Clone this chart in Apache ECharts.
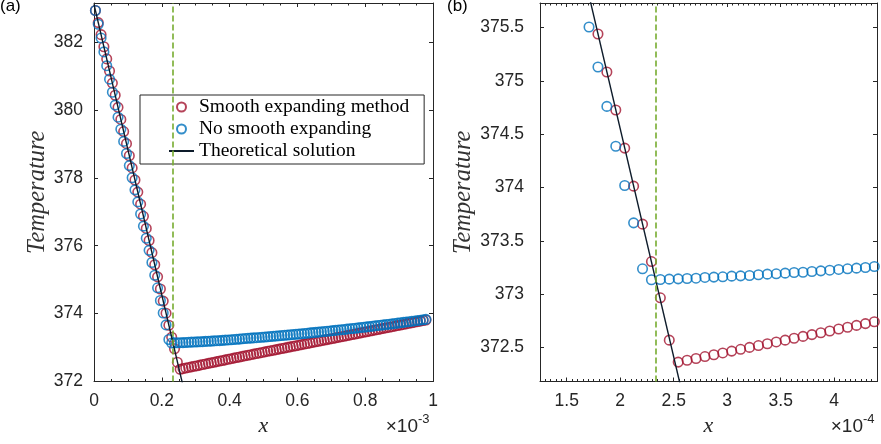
<!DOCTYPE html>
<html><head><meta charset="utf-8">
<script src="https://cdn.jsdelivr.net/npm/echarts@6/dist/echarts.min.js"></script>
<style>html,body{margin:0;padding:0;background:#fff}#c{width:881px;height:444px}</style>
</head><body><div id="c"></div>
<script>
// x positions of the cells, in units of 1e-4 m
const xGrid = [
0.0417,0.125,0.2083,0.2917,0.375,0.4583,0.5417,0.625,0.7083,0.7917,0.875,0.9583,
1.0417,1.125,1.2083,1.2917,1.375,1.4583,1.5417,1.625,1.7083,1.7917,1.875,1.9583,
2.0417,2.125,2.2083,2.2917,2.375,2.4583,2.5417,2.625,2.7083,2.7917,2.875,2.9583,
3.0417,3.125,3.2083,3.2917,3.375,3.4583,3.5417,3.625,3.7083,3.7917,3.875,3.9583,
4.0417,4.125,4.2083,4.2917,4.375,4.4583,4.5417,4.625,4.7083,4.7917,4.875,4.9583,
5.0417,5.125,5.2083,5.2917,5.375,5.4583,5.5417,5.625,5.7083,5.7917,5.875,5.9583,
6.0417,6.125,6.2083,6.2917,6.375,6.4583,6.5417,6.625,6.7083,6.7917,6.875,6.9583,
7.0417,7.125,7.2083,7.2917,7.375,7.4583,7.5417,7.625,7.7083,7.7917,7.875,7.9583,
8.0417,8.125,8.2083,8.2917,8.375,8.4583,8.5417,8.625,8.7083,8.7917,8.875,8.9583,
9.0417,9.125,9.2083,9.2917,9.375,9.4583,9.5417,9.625,9.7083,9.7917
];
// Smooth expanding method (temperature)
const smoothT = [
382.930,382.573,382.217,381.860,381.503,381.147,380.790,380.433,380.076,379.720,
379.363,379.006,378.650,378.293,377.936,377.580,377.223,376.866,376.509,376.153,
375.796,375.439,375.083,374.726,374.369,374.012,373.656,373.305,372.965,372.568,
372.362,372.379,372.396,372.414,372.431,372.448,372.465,372.482,372.500,372.517,
372.534,372.551,372.568,372.586,372.603,372.620,372.637,372.654,372.672,372.689,
372.706,372.723,372.740,372.757,372.773,372.790,372.806,372.823,372.839,372.856,
372.872,372.889,372.905,372.922,372.938,372.955,372.971,372.988,373.004,373.021,
373.037,373.054,373.070,373.087,373.103,373.120,373.136,373.153,373.169,373.186,
373.202,373.219,373.235,373.252,373.268,373.285,373.301,373.318,373.334,373.351,
373.367,373.384,373.400,373.417,373.433,373.450,373.466,373.483,373.499,373.516,
373.532,373.549,373.565,373.582,373.598,373.615,373.631,373.648,373.664,373.681,
373.697,373.714,373.730,373.747,373.763,373.780,373.796,373.813
];
// No smooth expanding (temperature)
const noSmoothT = [
382.930,382.523,382.117,381.710,381.303,380.907,380.520,380.143,379.786,379.430,
379.073,378.716,378.360,378.003,377.646,377.290,376.933,376.576,376.219,375.863,
375.505,375.130,374.760,374.386,374.018,373.668,373.237,373.134,373.137,373.140,
373.143,373.146,373.149,373.156,373.159,373.162,373.168,373.171,373.174,373.181,
373.187,373.190,373.196,373.202,373.205,373.212,373.218,373.224,373.231,373.237,
373.243,373.249,373.259,373.265,373.272,373.278,373.284,373.291,373.298,373.304,
373.311,373.318,373.325,373.332,373.339,373.346,373.354,373.361,373.368,373.376,
373.383,373.391,373.399,373.407,373.415,373.422,373.431,373.439,373.447,373.455,
373.464,373.472,373.481,373.489,373.498,373.507,373.515,373.524,373.533,373.542,
373.552,373.561,373.570,373.580,373.589,373.599,373.608,373.618,373.628,373.638,
373.648,373.658,373.668,373.678,373.688,373.699,373.709,373.719,373.730,373.741,
373.751,373.762,373.773,373.784,373.795,373.806,373.818,373.829
];
// Theoretical solution (straight line, end points)
const theoryX = [0, 2.7];
const theoryT = [383.11, 371.554];
// Interface position (x 1e-4 m)
const interfaceX = 2.33;
const seriesNames = ['Smooth expanding method', 'No smooth expanding', 'Theoretical solution'];

const RED = '#A2142F', BLUE = '#0072BD', BLACK = '#0d1b2a', GREEN = '#77AC30', AX = '#262626';
const SANS = 'Liberation Sans', SERIF = 'Liberation Serif';

const chart = echarts.init(document.getElementById('c'), null, {renderer: 'canvas'});

function ax(o) {
  return Object.assign({
    type: 'value', splitLine: {show: false},
    axisLine: {show: true, onZero: false, lineStyle: {color: AX, width: 1}},
    axisTick: {show: true, inside: true, length: 4, lineStyle: {color: AX, width: 1}},
    axisLabel: {show: false}
  }, o);
}
const lbl = {color: AX, fontFamily: SANS, fontSize: 17.5, margin: 11};
const nameStyle = {fontFamily: SERIF, fontStyle: 'italic', fontSize: 22, color: AX};
const yNameStyle = {fontFamily: SERIF, fontStyle: 'italic', fontSize: 24.5, color: '#333'};
const minor = {show: true, inside: true, length: 2.5, lineStyle: {color: AX, width: 1}};

const xAxes = [
  ax({gridIndex: 0, min: 0, max: 10, interval: 2, position: 'bottom',
      minorTick: {show: true, splitNumber: 4, length: 2.5, lineStyle: {color: AX}},
      axisLabel: Object.assign({show: true, formatter: v => String(parseFloat((v / 10).toFixed(2)))}, lbl),
      name: 'x', nameLocation: 'middle', nameGap: 33, nameTextStyle: nameStyle}),
  ax({gridIndex: 0, min: 0, max: 10, interval: 2, position: 'top',
      minorTick: {show: true, splitNumber: 4, length: 2.5, lineStyle: {color: AX}}}),
  ax({gridIndex: 1, min: 1.25, max: 4.4, splitNumber: 6, position: 'bottom',
      axisLabel: Object.assign({show: true, showMinLabel: false, showMaxLabel: false}, lbl),
      name: 'x', nameLocation: 'middle', nameGap: 33, nameTextStyle: nameStyle}),
  ax({gridIndex: 1, min: 1.25, max: 4.4, interval: 0.05, position: 'bottom',
      axisLine: {show: false}, axisTick: minor}),
  ax({gridIndex: 1, min: 1.25, max: 4.4, splitNumber: 6, position: 'top'}),
  ax({gridIndex: 1, min: 1.25, max: 4.4, interval: 0.05, position: 'top',
      axisLine: {show: false}, axisTick: minor})
];
const yAxes = [
  ax({gridIndex: 0, min: 372, max: 383.15, interval: 2, position: 'left',
      axisLabel: Object.assign({show: true, showMaxLabel: false}, lbl),
      name: 'Temperature', nameLocation: 'middle', nameRotate: 90, nameGap: 44, nameTextStyle: yNameStyle}),
  ax({gridIndex: 0, min: 372, max: 383.15, interval: 2, position: 'right'}),
  ax({gridIndex: 1, min: 372.18, max: 375.73, splitNumber: 7, position: 'left',
      axisLabel: Object.assign({show: true, showMinLabel: false, showMaxLabel: false}, lbl, {margin: 16}),
      name: 'Temperature', nameLocation: 'middle', nameRotate: 90, nameGap: 61, nameTextStyle: yNameStyle}),
  ax({gridIndex: 1, min: 372.18, max: 375.73, splitNumber: 7, position: 'right'})
];

function scatter(name, ys, color, xi, yi) {
  return {type: 'scatter', name: name, xAxisIndex: xi, yAxisIndex: yi,
    data: xGrid.map((x, i) => [x, ys[i]]), symbol: 'circle', symbolSize: 9.5,
    itemStyle: {color: 'rgba(255,255,255,0)', borderColor: color, borderWidth: 1.6},
    silent: true, clip: true};
}
function theory(xi, yi) {
  return {type: 'line', name: seriesNames[2], xAxisIndex: xi, yAxisIndex: yi,
    data: theoryX.map((x, i) => [x, theoryT[i]]), symbol: 'none', showSymbol: false,
    itemStyle: {color: BLACK},
    lineStyle: {color: BLACK, width: 1.4}, clip: true, silent: true, z: 3,
    markLine: {silent: true, symbol: 'none', label: {show: false},
      lineStyle: {color: GREEN, type: [6, 3], width: 1.6}, data: [{xAxis: interfaceX}]}};
}

chart.setOption({
  animation: false,
  backgroundColor: '#fff',
  grid: [
    {left: 94, top: 3, width: 339, height: 378.5},
    {left: 540, top: 3, width: 337, height: 378.5}
  ],
  xAxis: xAxes,
  yAxis: yAxes,
  legend: {
    data: [seriesNames[0], seriesNames[1],
           {name: seriesNames[2], itemStyle: {color: 'rgba(0,0,0,0)', borderWidth: 0, opacity: 0}}],
    orient: 'vertical', left: 140, top: 95,
    padding: [2, 15, 3, 28], itemGap: 2, itemWidth: 25, itemHeight: 9,
    backgroundColor: '#fff', borderColor: AX, borderWidth: 1, borderRadius: 0,
    textStyle: {fontFamily: SERIF, fontSize: 19.5, color: '#000'},
    selectedMode: false
  },
  series: [
    scatter(seriesNames[0], smoothT, RED, 0, 0),
    scatter(seriesNames[1], noSmoothT, BLUE, 0, 0),
    theory(0, 0),
    scatter(seriesNames[0], smoothT, RED, 2, 2),
    scatter(seriesNames[1], noSmoothT, BLUE, 2, 2),
    theory(2, 2)
  ],
  graphic: [
    {type: 'text', left: 0, top: -2, style: {text: '(a)', font: '17px "Liberation Sans"', fill: '#000'}},
    {type: 'text', left: 447, top: -2, style: {text: '(b)', font: '17px "Liberation Sans"', fill: '#000'}},
    {type: 'text', right: 881 - 418, top: 417, style: {text: '×10', font: '19px "Liberation Sans"', fill: AX}},
    {type: 'text', left: 418, top: 413, style: {text: '-3', font: '13px "Liberation Sans"', fill: AX}},
    {type: 'text', right: 881 - 863, top: 417, style: {text: '×10', font: '19px "Liberation Sans"', fill: AX}},
    {type: 'text', left: 863, top: 413, style: {text: '-4', font: '13px "Liberation Sans"', fill: AX}}
  ]
});
</script></body></html>
